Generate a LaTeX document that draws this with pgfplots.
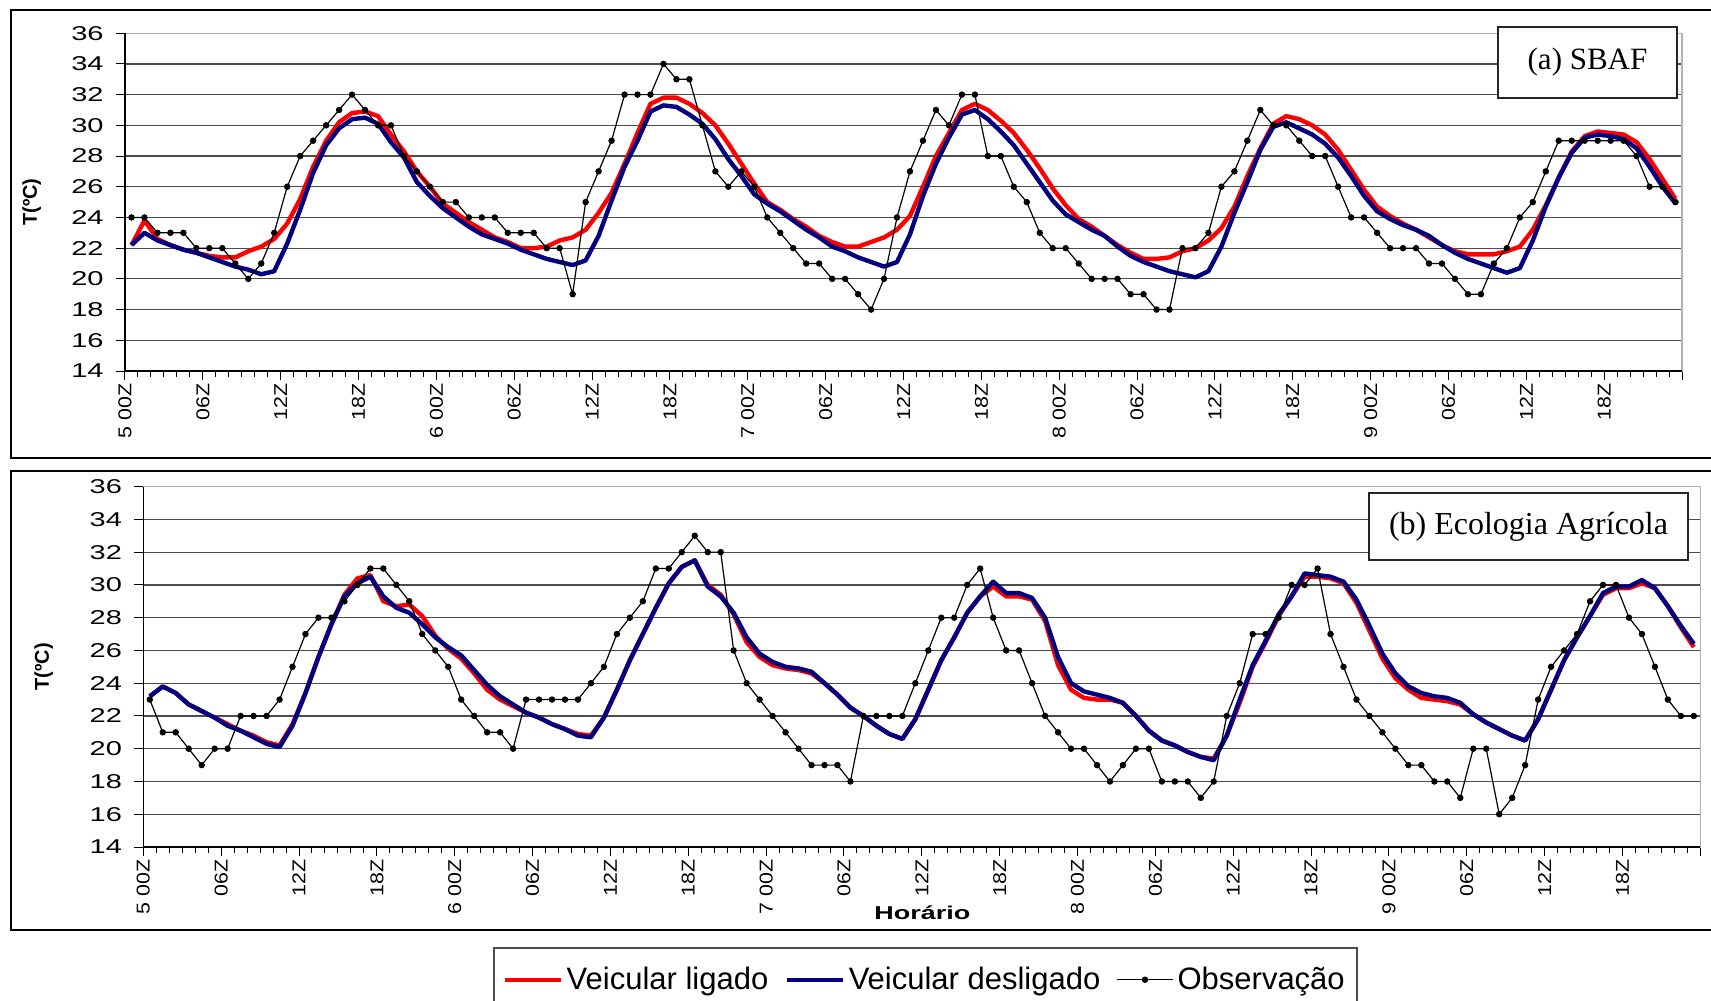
\documentclass[border=0pt]{standalone}
\usepackage{pgfplots}
\pgfplotsset{compat=1.18}
\usepackage{pgfplotstable}
\usepackage{fontspec}
\setmainfont{Liberation Sans}
\newfontfamily\ytickfont{Liberation Sans}[FakeStretch=1.45]
\newfontfamily\xtickfont{Liberation Sans}[FakeStretch=1.15]
\newfontfamily\labfont{Liberation Sans}[FakeStretch=1.45]
\newfontfamily\boxfont{Liberation Serif}

\definecolor{ligado}{RGB}{255,0,0}
\definecolor{desligado}{RGB}{0,0,128}

% (a) SBAF: h = hour from 5 00Z, obs, ligado, desligado
\pgfplotstableread{
h obs lig des
0 24 22.2 22.2
1 24 23.8 23.0
2 23 22.6 22.5
3 23 22.2 22.2
4 23 21.9 21.9
5 22 21.7 21.7
6 22 21.5 21.4
7 22 21.4 21.1
8 21 21.4 20.8
9 20 21.8 20.6
10 21 22.1 20.3
11 23 22.6 20.5
12 26 23.6 22.3
13 28 25.2 24.5
14 29 27.3 26.9
15 30 29.0 28.7
16 31 30.2 29.8
17 32 30.8 30.4
18 31 30.9 30.5
19 30 30.6 30.1
20 30 29.4 28.9
21 28 28.3 27.9
22 27 27.0 26.3
23 26 26.0 25.4
24 25 24.9 24.6
25 25 24.3 24.0
26 24 23.7 23.4
27 24 23.2 22.9
28 24 22.7 22.6
29 23 22.4 22.3
30 23 22.0 21.9
31 23 22.0 21.6
32 22 22.1 21.3
33 22 22.5 21.1
34 19 22.7 20.9
35 25 23.2 21.2
36 27 24.3 22.8
37 29 25.6 25.1
38 32 27.5 27.3
39 32 29.5 29.0
40 32 31.4 30.9
41 34 31.8 31.3
42 33 31.8 31.2
43 33 31.4 30.7
44 30 30.8 30.1
45 27 30.0 29.1
46 26 28.8 27.8
47 27 27.5 26.7
48 26 26.2 25.5
49 24 25.0 24.9
50 23 24.5 24.4
51 22 23.9 23.8
52 21 23.4 23.2
53 21 22.8 22.7
54 20 22.4 22.1
55 20 22.1 21.8
56 19 22.1 21.4
57 18 22.4 21.1
58 20 22.7 20.8
59 24 23.2 21.1
60 27 24.1 22.9
61 29 26.0 25.4
62 31 28.0 27.5
63 30 29.5 29.2
64 32 31.0 30.7
65 32 31.4 31.0
66 28 31.0 30.4
67 28 30.3 29.6
68 26 29.5 28.7
69 25 28.4 27.5
70 23 27.2 26.3
71 22 25.9 25.1
72 22 24.8 24.2
73 21 23.9 23.7
74 20 23.4 23.2
75 20 22.8 22.8
76 20 22.2 22.1
77 19 21.7 21.5
78 19 21.3 21.1
79 18 21.3 20.8
80 18 21.4 20.5
81 22 21.8 20.3
82 22 22.0 20.1
83 23 22.5 20.5
84 26 23.3 22.1
85 27 24.7 24.3
86 29 26.7 26.3
87 31 28.5 28.4
88 30 30.1 29.9
89 30 30.6 30.2
90 29 30.4 29.8
91 28 30.0 29.4
92 28 29.4 28.8
93 26 28.4 27.9
94 24 27.1 26.7
95 24 25.8 25.4
96 23 24.7 24.4
97 22 24.1 23.9
98 22 23.6 23.5
99 22 23.2 23.2
100 21 22.7 22.8
101 21 22.2 22.2
102 20 21.8 21.7
103 19 21.6 21.3
104 19 21.6 21.0
105 21 21.6 20.7
106 22 21.8 20.4
107 24 22.1 20.7
108 25 23.2 22.5
109 27 24.8 24.7
110 29 26.6 26.6
111 29 28.3 28.2
112 29 29.3 29.2
113 29 29.6 29.4
114 29 29.5 29.3
115 29 29.4 29.1
116 28 28.9 28.5
117 26 27.8 27.3
118 26 26.5 26.0
119 25 25.2 24.9
}\sbaf

% (b) Ecologia Agricola
\pgfplotstableread{
h obs lig des
0 23 23.2 23.2
1 21 23.8 23.8
2 21 23.4 23.4
3 20 22.7 22.7
4 19 22.3 22.3
5 20 21.9 21.9
6 20 21.5 21.4
7 22 21.1 21.1
8 22 20.8 20.7
9 22 20.4 20.3
10 23 20.2 20.1
11 25 21.5 21.4
12 27 23.4 23.4
13 28 25.6 25.6
14 28 27.6 27.6
15 29 29.4 29.3
16 30 30.4 30.1
17 31 30.6 30.5
18 31 29.0 29.3
19 30 28.7 28.6
20 29 28.8 28.3
21 27 28.1 27.6
22 26 26.9 26.8
23 25 26.1 26.2
24 23 25.5 25.7
25 22 24.6 24.8
26 21 23.6 23.9
27 21 23.0 23.2
28 20 22.6 22.7
29 23 22.2 22.2
30 23 21.9 21.9
31 23 21.5 21.5
32 23 21.2 21.2
33 23 20.9 20.8
34 24 20.8 20.7
35 25 21.9 21.9
36 27 23.6 23.6
37 28 25.4 25.4
38 29 27.0 27.0
39 31 28.6 28.6
40 31 30.1 30.1
41 32 31.1 31.1
42 33 31.5 31.5
43 32 30.0 29.9
44 32 29.4 29.3
45 26 28.2 28.3
46 24 26.5 26.8
47 23 25.6 25.8
48 22 25.1 25.3
49 21 24.9 25.0
50 20 24.8 24.9
51 19 24.6 24.7
52 19 24.0 24.0
53 19 23.3 23.3
54 18 22.5 22.5
55 22 22.0 22.0
56 22 21.4 21.4
57 22 20.9 20.9
58 22 20.6 20.6
59 24 21.8 21.8
60 26 23.6 23.6
61 28 25.4 25.4
62 28 26.8 26.8
63 30 28.3 28.3
64 31 29.3 29.3
65 28 29.9 30.2
66 26 29.3 29.5
67 26 29.3 29.5
68 24 29.1 29.2
69 22 27.8 28.0
70 21 25.1 25.6
71 20 23.6 24.0
72 20 23.1 23.5
73 19 23.0 23.3
74 18 23.0 23.1
75 19 22.8 22.8
76 20 22.0 22.0
77 20 21.1 21.1
78 18 20.5 20.5
79 18 20.2 20.2
80 18 19.8 19.8
81 17 19.5 19.5
82 18 19.4 19.3
83 22 20.8 20.8
84 24 22.8 23.0
85 27 25.0 25.1
86 27 26.5 26.6
87 28 28.1 28.2
88 30 29.3 29.3
89 30 30.5 30.7
90 31 30.5 30.6
91 27 30.4 30.5
92 25 30.1 30.2
93 23 28.9 29.1
94 22 27.2 27.5
95 21 25.5 25.8
96 20 24.3 24.6
97 19 23.6 23.8
98 19 23.1 23.4
99 18 23.0 23.2
100 18 22.9 23.1
101 17 22.7 22.8
102 20 22.1 22.1
103 20 21.6 21.6
104 16 21.2 21.2
105 17 20.8 20.8
106 19 20.5 20.5
107 23 21.8 21.8
108 25 23.6 23.6
109 26 25.4 25.4
110 27 26.8 26.8
111 29 28.1 28.1
112 30 29.4 29.5
113 30 29.8 29.9
114 28 29.8 29.9
115 27 30.1 30.3
116 25 29.8 29.8
117 23 28.7 28.7
118 22 27.4 27.5
119 22 26.2 26.4
}\ecologia

\pgfplotsset{
  painel/.style={
    scale only axis,
    width=778.5pt,
    xmin=0, xmax=120, ymin=14, ymax=36,
    xtick={0,6,...,120},
    xticklabels={5 00Z,06Z,12Z,18Z,6 00Z,06Z,12Z,18Z,7 00Z,06Z,12Z,18Z,8 00Z,06Z,12Z,18Z,9 00Z,06Z,12Z,18Z,{}},
    minor x tick num=5,
    ytick={14,16,...,36},
    xtick pos=bottom, ytick pos=left,
    tick align=outside,
    major tick length=4.5pt,
    minor tick length=3pt,
    tick style={black, line width=0.5pt},
    ymajorgrids,
    grid style={line width=0.6pt, draw=black!70},
    axis line style={draw=gray!60, line width=0.6pt},
    /pgf/number format/assume math mode=true,
    xticklabel style={font=\xtickfont\fontsize{9.3}{9}\selectfont, rotate=90, anchor=east, inner sep=1.5pt},
    yticklabel style={font=\ytickfont\fontsize{10}{10}\selectfont, inner sep=2pt, xshift=-4pt},
    ylabel={T(ºC)},
    ylabel style={font=\bfseries\fontsize{10}{10}\selectfont, anchor=center},
    after end axis/.append code={
      \draw[black, line width=0.6pt] (rel axis cs:0,1) -- (rel axis cs:0,0) -- (rel axis cs:1,0);
    },
  },
  lig/.style={color=ligado, line width=2.2pt, line join=round},
  des/.style={color=desligado, line width=2.2pt, line join=round},
  obs/.style={color=black, line width=0.6pt, mark=*, mark size=1.3pt},
}

\begin{document}
\begin{tikzpicture}
% panel frames
\draw[line width=1pt] (5.5pt,-5pt) rectangle (870pt,-229pt);
\draw[line width=1pt] (5.5pt,-235.5pt) rectangle (870pt,-465pt);

\begin{axis}[painel,
  height=168.9pt,
  at={(62.5pt,-185.5pt)}, anchor=south west,
  ylabel style={at={(axis description cs:-0.060,0.5)}},
]
  \addplot[lig] table[x expr=\thisrow{h}+0.5, y=lig] {\sbaf};
  \addplot[des] table[x expr=\thisrow{h}+0.5, y=des] {\sbaf};
  \addplot[obs] table[x expr=\thisrow{h}+0.5, y=obs] {\sbaf};
\end{axis}

\begin{axis}[painel,
  height=180.2pt,
  at={(71.65pt,-423.5pt)}, anchor=south west,
  ylabel style={at={(axis description cs:-0.064,0.5)}},
  xlabel={Horário},
  xlabel style={at={(axis description cs:0.5004,-0.183)}, anchor=center, font=\labfont\bfseries\fontsize{9.3}{9.3}\selectfont},
  legend columns=3,
  legend style={at={(axis description cs:0.5024,-0.2775)}, anchor=north,
    draw=gray!60!black, line width=1pt, fill=white,
    font=\fontsize{15.5}{18}\selectfont, inner xsep=4pt, inner ysep=7.5pt,
    /tikz/every even column/.append style={column sep=6pt},
    nodes={inner xsep=2pt}},
  legend image code/.code={\draw[mark repeat=2, mark phase=2, #1] plot coordinates {(0pt,0pt) (14pt,0pt) (28pt,0pt)};},
]
  \addplot[lig] table[x expr=\thisrow{h}+0.5, y=lig] {\ecologia};
  \addlegendentry{Veicular ligado}
  \addplot[des] table[x expr=\thisrow{h}+0.5, y=des] {\ecologia};
  \addlegendentry{Veicular desligado}
  \addplot[obs] table[x expr=\thisrow{h}+0.5, y=obs] {\ecologia};
  \addlegendentry{Observação}
\end{axis}

\node[draw=gray!30!black, line width=1pt, fill=white, minimum width=89.5pt, minimum height=35.5pt,
  font=\boxfont\fontsize{15.5}{15.5}\selectfont] at (793.75pt,-31.25pt) {(a) SBAF};
\node[draw=gray!30!black, line width=1pt, fill=white, minimum width=159.5pt, minimum height=33.5pt,
  font=\boxfont\fontsize{16}{16}\selectfont] at (764.25pt,-263.25pt) {(b) Ecologia Agrícola};

\pgfresetboundingbox
\useasboundingbox (0pt,0pt) rectangle (855.5pt,-500pt);
\end{tikzpicture}
\end{document}
